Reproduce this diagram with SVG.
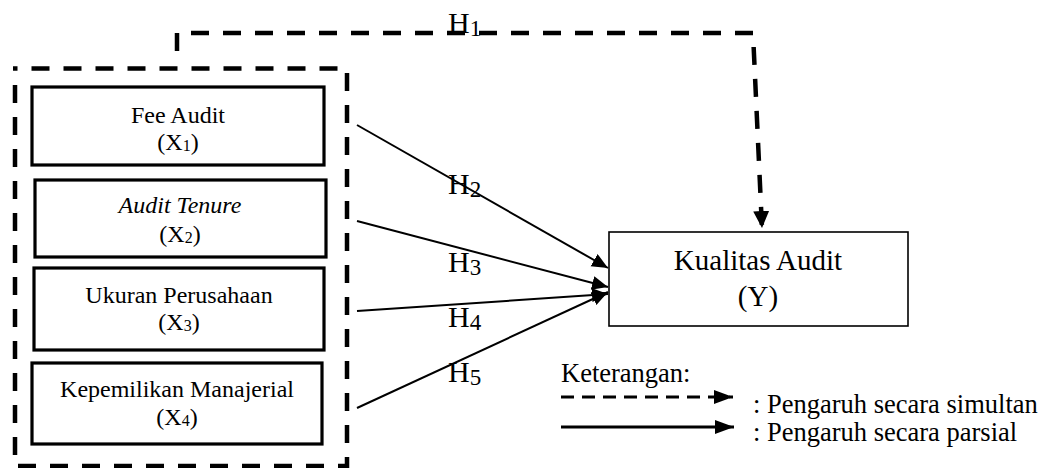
<svg xmlns="http://www.w3.org/2000/svg" width="1050" height="468" viewBox="0 0 1050 468">
<style>
text{font-family:"Liberation Serif","Times New Roman",serif;fill:#000}
.box{fill:#fff;stroke:#000;stroke-width:3.2}
.ybox{fill:#fff;stroke:#000;stroke-width:1.6}
.t{font-size:24px;text-anchor:middle}
.sub{font-size:16px}
.h{font-size:30px}
.hs{font-size:23px}
.solid{fill:none;stroke:#000;stroke-width:2}
.dash{fill:none;stroke:#000;stroke-width:4.5;stroke-dasharray:18 14}
.leg{font-size:26.5px}
</style>
<defs>
<marker id="ah" markerUnits="userSpaceOnUse" markerWidth="20" markerHeight="16" refX="16" refY="7" orient="auto">
<path d="M0,0 L16,7 L0,14 Z" fill="#000"/>
</marker>
<marker id="ahd" markerUnits="userSpaceOnUse" markerWidth="20" markerHeight="20" refX="17" refY="8" orient="auto">
<path d="M0,0 L17,8 L0,16 Z" fill="#000"/>
</marker>
<marker id="ahl" markerUnits="userSpaceOnUse" markerWidth="22" markerHeight="16" refX="19" refY="7" orient="auto">
<path d="M0,0 L19,7 L0,14 Z" fill="#000"/>
</marker>
</defs>

<g id="group-x">
<path class="dash" d="M15,85 V466 H347 V68.5 H13"/>
</g>

<g id="x1">
<rect class="box" x="32" y="87" width="292" height="78"/>
<text class="t" x="178" y="123">Fee Audit</text>
<text class="t" x="178" y="150">(X<tspan class="sub" dy="1">1</tspan><tspan dy="-1">)</tspan></text>
</g>
<g id="x2">
<rect class="box" x="35" y="180" width="291" height="77"/>
<text class="t" x="180" y="213" font-style="italic">Audit Tenure</text>
<text class="t" x="180" y="242">(X<tspan class="sub" dy="1">2</tspan><tspan dy="-1">)</tspan></text>
</g>
<g id="x3">
<rect class="box" x="34" y="268" width="290" height="82"/>
<text class="t" x="179" y="303">Ukuran Perusahaan</text>
<text class="t" x="179" y="330">(X<tspan class="sub" dy="1">3</tspan><tspan dy="-1">)</tspan></text>
</g>
<g id="x4">
<rect class="box" x="32" y="363" width="290" height="81"/>
<text class="t" x="177" y="397">Kepemilikan Manajerial</text>
<text class="t" x="177" y="425">(X<tspan class="sub" dy="1">4</tspan><tspan dy="-1">)</tspan></text>
</g>

<g id="y">
<rect class="ybox" x="609" y="232" width="299" height="94"/>
<text x="758" y="270" font-size="29" text-anchor="middle">Kualitas Audit</text>
<text x="758" y="306" font-size="29" text-anchor="middle">(Y)</text>
</g>

<g id="connectors">
<path class="dash" d="M177,58 V33 H753 L762,228" marker-end="url(#ahd)" stroke-dashoffset="-7"/>
<line class="solid" x1="357" y1="125" x2="608" y2="268" marker-end="url(#ah)"/>
<line class="solid" x1="357" y1="221" x2="608" y2="287" marker-end="url(#ah)"/>
<line class="solid" x1="357" y1="311" x2="608" y2="294" marker-end="url(#ah)"/>
<line class="solid" x1="357" y1="408" x2="608" y2="292" marker-end="url(#ah)"/>
</g>

<g id="labels">
<text class="h" x="448" y="33">H<tspan class="hs" dy="3">1</tspan></text>
<text class="h" x="448" y="194">H<tspan class="hs" dy="3">2</tspan></text>
<text class="h" x="448" y="272">H<tspan class="hs" dy="3">3</tspan></text>
<text class="h" x="448" y="327">H<tspan class="hs" dy="3">4</tspan></text>
<text class="h" x="448" y="382">H<tspan class="hs" dy="3">5</tspan></text>
</g>

<g id="legend">
<text class="leg" x="561" y="382">Keterangan:</text>
<line x1="561" y1="397" x2="733" y2="397" stroke="#000" stroke-width="3" stroke-dasharray="13 8" marker-end="url(#ahl)"/>
<line x1="561" y1="427" x2="734" y2="427" stroke="#000" stroke-width="3" marker-end="url(#ahl)"/>
<text class="leg" x="753" y="413">: Pengaruh secara simultan</text>
<text class="leg" x="753" y="441">: Pengaruh secara parsial</text>
</g>
</svg>
